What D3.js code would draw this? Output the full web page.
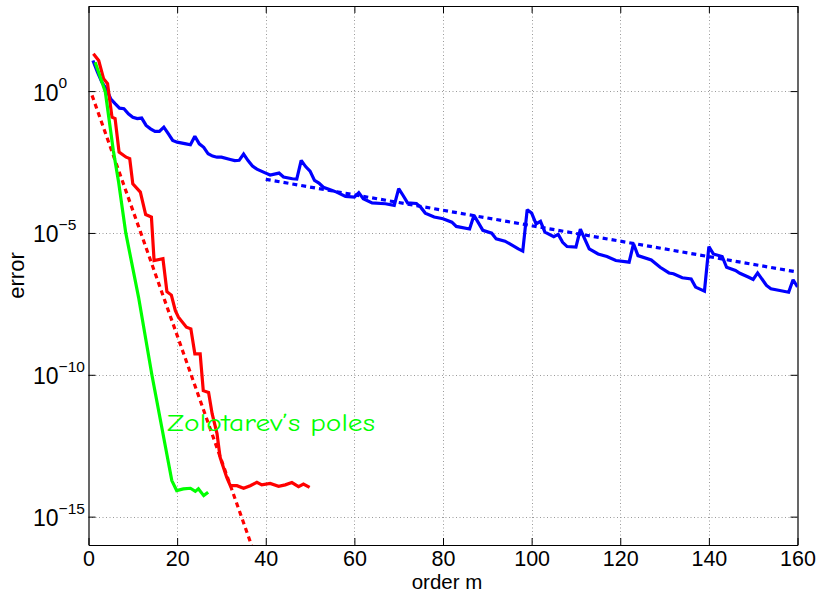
<!DOCTYPE html>
<html><head><meta charset="utf-8">
<script src="https://cdn.jsdelivr.net/npm/d3@7"></script>
<style>body{margin:0;background:#fff}svg{display:block}</style>
</head><body><svg id="c" width="820" height="594"></svg>
<script>
// ---- data (errors, stored as log10 exponents) ----
const xTicks = [0,20,40,60,80,100,120,140,160];
const yTickExps = [0,-5,-10,-15];
const xLabel = "order m";
const yLabel = "error";
const annotation = "Zolotarev\u2019s poles";

const blueM = [1,2,3,4,5,6,7,8,9,10,11,12,13,14,15,16,17,18,19,20,22,23,24,25,26,27,28,29,30,32,33,34,35,36,37,38,40,41,43,44,46,47,48,49,50,51,52,53,55,56,58,60,61,62,64,67,69,70,71,72,74,75,76,78,80,82,83,86,87,89,91,92,94,95,97,98,99,100,101,102,103,105,106,107,108,110,111,113,115,117,119,122,123,124,127,129,131,132,134,136,137,139,140,141,143,144,146,147,149,150,151,153,154,156,158,159,160];
const blueLog10 = [1.08,0.68,0.32,0.08,-0.27,-0.44,-0.6,-0.62,-0.8,-0.92,-0.97,-0.95,-1.21,-1.33,-1.42,-1.42,-1.27,-1.5,-1.74,-1.8,-1.86,-1.89,-1.59,-1.86,-1.98,-2.21,-2.29,-2.33,-2.33,-2.41,-2.45,-2.44,-2.22,-2.45,-2.64,-2.75,-2.89,-2.96,-2.89,-3.03,-3.09,-3.1,-2.44,-2.66,-2.82,-3.15,-3.24,-3.39,-3.5,-3.56,-3.71,-3.74,-3.58,-3.79,-3.94,-3.97,-4.03,-3.44,-3.68,-3.94,-3.96,-4.1,-4.3,-4.44,-4.5,-4.62,-4.77,-4.86,-4.38,-4.91,-5.01,-5.21,-5.29,-5.38,-5.56,-5.64,-4.18,-4.3,-4.68,-4.59,-4.97,-5.13,-5.05,-5.33,-5.48,-5.5,-4.87,-5.56,-5.74,-5.83,-5.97,-6.03,-5.38,-5.8,-5.95,-6.21,-6.41,-6.44,-6.58,-6.62,-6.91,-7.05,-5.48,-5.74,-5.83,-6.21,-6.32,-6.42,-6.56,-6.64,-6.41,-6.85,-6.97,-7.03,-7.09,-6.65,-6.9];

const blueFitM = [40,160];
const blueFitLog10 = [-3.11,-6.38];

const redM = [1.1,2.3,3.4,4.3,5.3,6.0,6.9,8.5,9.3,10.0,11.7,12.9,14.2,14.8,16.8,17.7,18.7,19.6,20.3,22.1,23.1,24.0,25.2,25.9,27.1,27.9,29.0,29.7,31.2,32.0,33.5,35.0,36.5,38.0,39.1,41.0,42.9,44.4,45.9,47.4,48.5,49.9];
const redLog10 = [1.32,1.08,0.44,0.26,-0.92,-0.97,-2.15,-2.33,-2.38,-3.27,-3.56,-4.35,-4.44,-5.97,-5.91,-7.07,-7.19,-7.74,-7.97,-8.32,-8.38,-9.26,-9.26,-10.56,-10.62,-11.37,-12.07,-12.91,-13.62,-13.91,-13.91,-14.0,-13.91,-13.79,-13.88,-13.83,-13.93,-13.88,-13.80,-13.94,-13.85,-13.97];

const redFitM = [0.8,37];
const redFitLog10 = [-0.15,-16.1];

const greenM = [1.5,3.8,5.6,6.8,8.4,11.3,14.3,18.8,19.9,21.4,23.0,24.1,24.8,26.0,27.0];
const greenLog10 = [1.02,-0.03,-2.09,-3.21,-4.99,-7.27,-10.0,-13.73,-14.08,-14.02,-14.0,-14.11,-14.02,-14.26,-14.14];

const annotationM = 17.7, annotationLog10 = -11.97;

// ---- layout ----
const L = 88.5, R = 797.5, T = 6, B = 545;
const svg = d3.select("#c");
const x = d3.scaleLinear().domain([0,160]).range([L,R]);
const y = d3.scaleLog().domain([1e-16,1e3]).range([B,T]);
const font = "'Liberation Sans', Arial, Helvetica, sans-serif";

svg.append("rect").attr("width",820).attr("height",594).attr("fill","#fff");

// grid
const grid = svg.append("g").attr("stroke","#9a9a9a").attr("stroke-width",1).attr("stroke-dasharray","1,2.5");
grid.selectAll("line.vx").data(xTicks.filter(d=>d>0&&d<160)).join("line")
  .attr("x1",d=>Math.round(x(d))+0.5).attr("x2",d=>Math.round(x(d))+0.5).attr("y1",T).attr("y2",B);
grid.selectAll("line.hy").data(yTickExps).join("line")
  .attr("y1",d=>Math.round(y(10**d))+0.5).attr("y2",d=>Math.round(y(10**d))+0.5).attr("x1",L).attr("x2",R);

// axes (ticks inward)
const ax = svg.append("g").attr("font-family",font);
ax.append("g").attr("transform",`translate(0,${B})`)
  .call(d3.axisBottom(x).tickValues(xTicks).tickSizeInner(-7).tickSizeOuter(0).tickPadding(6))
  .call(g=>{g.selectAll("text").attr("font-size",21.5).attr("fill","#000").attr("font-family",font);});
ax.append("g").attr("transform",`translate(0,${T})`)
  .call(d3.axisTop(x).tickValues(xTicks).tickSizeInner(-7).tickSizeOuter(0).tickFormat(""));
ax.append("g").attr("transform",`translate(${L},0)`)
  .call(d3.axisLeft(y).tickValues(yTickExps.map(e=>10**e)).tickSizeInner(-7).tickSizeOuter(0).tickFormat(""));
ax.append("g").attr("transform",`translate(${R},0)`)
  .call(d3.axisRight(y).tickValues(yTickExps.map(e=>10**e)).tickSizeInner(-7).tickSizeOuter(0).tickFormat(""));
ax.selectAll("path.domain").attr("stroke","#000").attr("stroke-width",1.2);
ax.selectAll(".tick line").attr("stroke","#000");

// y tick labels 10^k
const yl = svg.append("g").attr("font-family",font).attr("fill","#000");
yTickExps.forEach(e=>{
  const yy = y(10**e);
  const t = yl.append("text").attr("x",33).attr("y",yy+9.5).attr("font-size",23);
  t.append("tspan").text("10");
  t.append("tspan").attr("font-size",15.5).attr("dy",-12.5).text(e===0?"0":"\u2212"+Math.abs(e));
});

// axis labels
svg.append("text").attr("x",(L+R)/2+4).attr("y",589).attr("text-anchor","middle")
  .attr("font-family",font).attr("font-size",20.5).text(xLabel);
svg.append("text").attr("transform",`translate(24,${(T+B)/2}) rotate(-90)`).attr("text-anchor","middle")
  .attr("font-family",font).attr("font-size",22).text(yLabel);

// clip
svg.append("clipPath").attr("id","clip").append("rect").attr("x",L).attr("y",T).attr("width",R-L).attr("height",B-T);
const plot = svg.append("g").attr("clip-path","url(#clip)");
const line = d3.line().x(d=>x(d[0])).y(d=>y(10**d[1]));
const zip = (a,b)=>a.map((v,i)=>[v,b[i]]);

const series = [
  {m:blueFitM, v:blueFitLog10, c:"#0000ff", dash:"5,4"},
  {m:redFitM, v:redFitLog10, c:"#ff0000", dash:"5,4"},
  {m:blueM, v:blueLog10, c:"#0000ff", dash:null},
  {m:redM, v:redLog10, c:"#ff0000", dash:null},
  {m:greenM, v:greenLog10, c:"#00ff00", dash:null}
];
plot.selectAll("path.s").data(series).join("path")
  .attr("d",d=>line(zip(d.m,d.v))).attr("fill","none")
  .attr("stroke",d=>d.c).attr("stroke-width",3.2)
  .attr("stroke-linejoin","miter").attr("stroke-miterlimit",2)
  .attr("stroke-dasharray",d=>d.dash);

// annotation
svg.append("text").attr("x",x(annotationM)).attr("y",y(10**annotationLog10))
  .attr("font-family","'Comic Sans MS','Comic Neue',cursive,'DejaVu Sans'").attr("font-size",24)
  .attr("fill","#00ff00").attr("textLength",208).attr("lengthAdjust","spacingAndGlyphs").text(annotation);
</script></body></html>
